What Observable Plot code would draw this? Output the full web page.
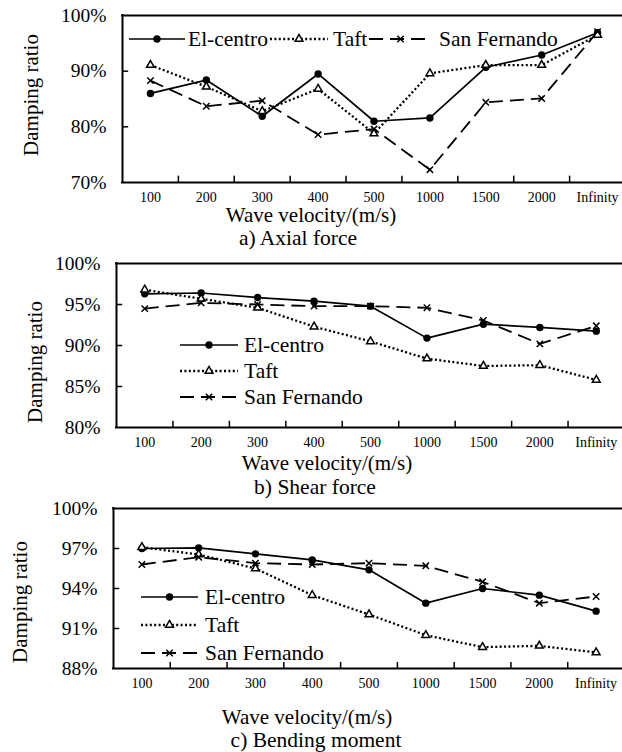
<!DOCTYPE html>
<html><head><meta charset="utf-8">
<script src="https://cdn.jsdelivr.net/npm/d3@7"></script>
<script src="https://cdn.jsdelivr.net/npm/@observablehq/plot@0.6"></script>
<style>
body{margin:0;background:#fff;}
#fig{position:relative;width:622px;height:752px;overflow:hidden;background:#fff;font-family:"Liberation Serif","DejaVu Serif",serif;}
#fig svg{position:absolute;left:0;}
#fig svg text{font-family:"Liberation Serif","DejaVu Serif",serif;}
#overlay{top:0;pointer-events:none;}
</style>
</head><body>
<div id="fig"></div>
<script>
// ---------- data ----------
const categories = ["100","200","300","400","500","1000","1500","2000","Infinity"];
const seriesNames = ["El-centro","Taft","San Fernando"];

const axialElCentro    = [86.0, 88.4, 81.9, 89.5, 81.0, 81.6, 90.7, 92.9, 96.9];
const axialTaft        = [91.1, 87.2, 82.8, 86.8, 78.8, 89.6, 91.1, 91.1, 96.5];
const axialSanFernando = [88.3, 83.7, 84.7, 78.6, 79.6, 72.3, 84.4, 85.1, 97.1];

const shearElCentro    = [96.3, 96.4, 95.85, 95.4, 94.8, 90.9, 92.6, 92.2, 91.75];
const shearTaft        = [96.8, 95.7, 94.6, 92.3, 90.5, 88.4, 87.5, 87.6, 85.8];
const shearSanFernando = [94.5, 95.2, 95.0, 94.8, 94.8, 94.6, 93.05, 90.2, 92.4];

const bendElCentro     = [97.0, 97.05, 96.6, 96.15, 95.4, 92.9, 94.0, 93.5, 92.3];
const bendTaft         = [97.1, 96.55, 95.5, 93.5, 92.05, 90.5, 89.6, 89.7, 89.2];
const bendSanFernando  = [95.8, 96.35, 95.9, 95.8, 95.9, 95.7, 94.5, 92.9, 93.4];

const axialTicks = [70, 80, 90, 100];
const shearTicks = [80, 85, 90, 95, 100];
const bendTicks  = [88, 91, 94, 97, 100];

const yLabel = "Damping ratio";
const xLabel = "Wave velocity/(m/s)";
const captions = ["a) Axial force", "b) Shear force", "c) Bending moment"];

// ---------- styles ----------
const FONT = '"Liberation Serif", "DejaVu Serif", serif';
const seriesStyle = {
  "El-centro":    {dash: null,      width: 1.7, symbol: "circle",   d3sym: d3.symbolCircle,   r: 3.7, fill: "black", stroke: "none", sw: 0},
  "Taft":         {dash: "2,2.4",   width: 2.3, symbol: "triangle", d3sym: d3.symbolTriangle, r: 2.9, fill: "white", stroke: "black", sw: 1.5},
  "San Fernando": {dash: "14,7",    width: 1.8, symbol: "times",    d3sym: d3.symbolTimes,    r: 3.0, fill: "none",  stroke: "black", sw: 1.5}
};

const fig = document.getElementById("fig");

function panel({top, height, marginTop, marginBottom, marginLeft, xRange, ticks, values}) {
  const idx = d3.range(categories.length);
  const bounds = d3.range(categories.length - 1).map(i => i + 0.5);
  const y0 = ticks[0], y1 = ticks[ticks.length - 1];
  const marks = [
    Plot.ruleY(ticks.slice(1, -1), {y: d => d, x1: -0.5, x2: -0.5 + 0.11, stroke: "black", strokeWidth: 1.5}),
    Plot.ruleX(bounds, {x: d => d, y1: y0, y2: y0 + (y1 - y0) * 0.038, stroke: "black", strokeWidth: 1.5}),
    Plot.text(ticks, {y: d => d, text: d => `${d}%`, frameAnchor: "left", textAnchor: "end", dx: -16, fontSize: 19.5, fill: "black", fontFamily: FONT}),
    Plot.text(idx, {x: d => d, text: i => categories[i], frameAnchor: "bottom", dy: 19, fontSize: 14, fill: "black", fontFamily: FONT})
  ];
  seriesNames.forEach((name, k) => {
    const st = seriesStyle[name];
    const rows = idx.map(i => ({i, v: values[k][i]}));
    marks.push(Plot.line(rows, {x: "i", y: "v", stroke: "black", strokeWidth: st.width, strokeDasharray: st.dash, strokeLinecap: "butt"}));
  });
  seriesNames.forEach((name, k) => {
    const st = seriesStyle[name];
    const rows = idx.map(i => ({i, v: values[k][i]}));
    marks.push(Plot.dot(rows, {x: "i", y: "v", symbol: st.symbol, r: st.r, fill: st.fill, stroke: st.stroke, strokeWidth: st.sw}));
  });
  marks.push(Plot.ruleY([y0, y1], {stroke: "black", strokeWidth: 2, strokeLinecap: "square"}));
  marks.push(Plot.ruleX([-0.5], {stroke: "black", strokeWidth: 2, strokeLinecap: "square"}));
  const svg = Plot.plot({
    width: 622, height, marginTop, marginBottom, marginLeft, marginRight: 0,
    x: {domain: [-0.5, categories.length - 0.5], range: xRange, axis: null},
    y: {domain: [y0, y1], axis: null},
    style: {fontFamily: FONT, background: "transparent", color: "black"},
    marks
  });
  svg.style.top = `${top}px`;
  fig.appendChild(svg);
}

panel({top: 0,   height: 215, marginTop: 15, marginBottom: 33, marginLeft: 122, xRange: [122, 625], ticks: axialTicks,
       values: [axialElCentro, axialTaft, axialSanFernando]});
panel({top: 245, height: 215, marginTop: 18, marginBottom: 33, marginLeft: 116, xRange: [116, 624], ticks: shearTicks,
       values: [shearElCentro, shearTaft, shearSanFernando]});
panel({top: 490, height: 215, marginTop: 18, marginBottom: 37, marginLeft: 113, xRange: [113, 624], ticks: bendTicks,
       values: [bendElCentro, bendTaft, bendSanFernando]});

// ---------- overlay: labels, captions, legends ----------
const ov = d3.select(fig).append("svg").attr("id", "overlay").attr("width", 622).attr("height", 752)
  .style("font-family", FONT);

const yLabelPos = [[31, 95], [35, 362], [20, 602]];
const xLabelPos = [[311, 215], [327, 463], [307, 717]];
const captionPos = [[298, 238], [315, 487], [316, 740]];

yLabelPos.forEach(([x, y]) => ov.append("text").attr("transform", `translate(${x},${y}) rotate(-90)`)
  .attr("text-anchor", "middle").attr("dominant-baseline", "central").attr("font-size", 21).text(yLabel));
xLabelPos.forEach(([x, y]) => ov.append("text").attr("x", x).attr("y", y)
  .attr("text-anchor", "middle").attr("dominant-baseline", "central").attr("font-size", 21).text(xLabel));
captionPos.forEach(([x, y], k) => ov.append("text").attr("x", x).attr("y", y)
  .attr("text-anchor", "middle").attr("dominant-baseline", "central").attr("font-size", 21.5).text(captions[k]));

function legendItem(name, x0, x1, y, tx) {
  const st = seriesStyle[name];
  ov.append("line").attr("x1", x0).attr("x2", x1).attr("y1", y).attr("y2", y)
    .attr("stroke", "black").attr("stroke-width", st.width).attr("stroke-dasharray", st.dash);
  ov.append("path").attr("transform", `translate(${(x0 + x1) / 2},${y})`)
    .attr("d", d3.symbol(st.d3sym, Math.PI * st.r * st.r)())
    .attr("fill", st.fill).attr("stroke", st.stroke).attr("stroke-width", st.sw);
  ov.append("text").attr("x", tx).attr("y", y).attr("dominant-baseline", "central")
    .attr("font-size", 21.5).text(name);
}
// legend a (horizontal)
legendItem("El-centro", 129, 185, 39, 188);
legendItem("Taft", 270, 328, 39, 333);
legendItem("San Fernando", 369, 432, 39, 439);
// legend b (vertical)
[345, 371, 397].forEach((y, k) => legendItem(seriesNames[k], 180, 238, y, 244));
// legend c (vertical)
[597, 625, 653].forEach((y, k) => legendItem(seriesNames[k], 141, 198, y, 205));
</script>
</body></html>
